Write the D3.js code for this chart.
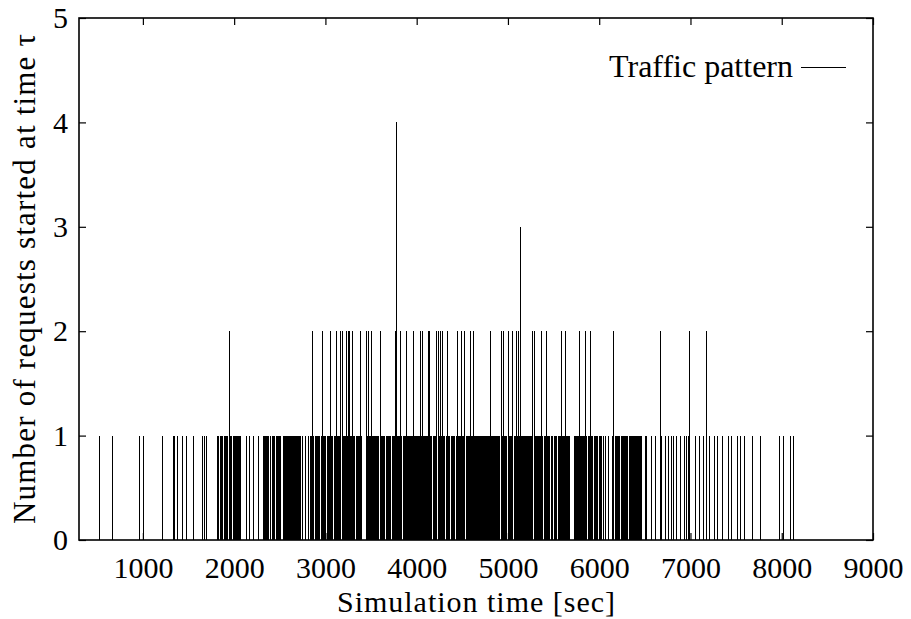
<!DOCTYPE html>
<html lang="en">
<head>
<meta charset="UTF-8">
<title>Traffic pattern</title>
<style>
  body { margin: 0; background: #fff; }
  svg text { font-family: 'Liberation Serif', 'DejaVu Serif', serif !important; fill: #000; }
  .imp { stroke: #000; stroke-width: 1; shape-rendering: crispEdges; }
</style>
</head>
<body>
<svg width="911" height="619" font-family="Liberation Serif"></svg>
<script src="https://cdn.jsdelivr.net/npm/d3@7"></script>
<script>
// request start times (sec), grouped by count at that instant
const onesEarly = [522, 672, 964, 1008, 1216, 1330, 1351, 1380, 1431, 1475, 1555, 1658, 1680, 1702,
  1815, 1826, 1848, 1859, 1870, 1891, 1902, 1913, 1924, 1957, 1968, 1990];
const ones2000 = [2001, 2012, 2023, 2034, 2045, 2056, 2067, 2132, 2169, 2212, 2267, 2319, 2330, 2341,
  2352, 2363, 2374, 2395, 2417, 2428, 2439, 2461, 2472, 2483, 2494, 2505, 2538, 2549, 2560, 2571,
  2582, 2592, 2603, 2614, 2625, 2636, 2647, 2658, 2669, 2680, 2691, 2702, 2713, 2724, 2746, 2779,
  2811, 2833, 2844, 2855, 2866, 2888, 2899, 2910, 2921, 2932, 2954, 2965, 2976, 2987, 2998];
const ones3000 = [3020, 3031, 3042, 3053, 3064, 3074, 3096, 3107, 3118, 3129, 3140, 3151, 3162, 3184,
  3195, 3206, 3217, 3228, 3239, 3250, 3261, 3272, 3283, 3293, 3304, 3315, 3337, 3348, 3359, 3370,
  3381, 3392, 3447, 3458, 3469, 3480, 3491, 3502, 3512, 3523, 3534, 3545, 3556, 3567, 3578, 3600,
  3611, 3622, 3633, 3644, 3666, 3677, 3688, 3699, 3710, 3731, 3742, 3753, 3764, 3775, 3786, 3797,
  3808, 3819, 3830, 3852, 3863, 3874, 3885, 3896, 3907, 3918, 3929, 3940, 3950, 3961, 3972, 3983, 3994];
const ones4000 = [4005, 4016, 4027, 4038, 4049, 4060, 4071, 4082, 4093, 4104, 4115, 4126, 4137, 4148,
  4159, 4180, 4191, 4202, 4213, 4235, 4246, 4257, 4268, 4279, 4290, 4301, 4323, 4334, 4345, 4356,
  4378, 4389, 4399, 4410, 4432, 4443, 4454, 4465, 4476, 4487, 4498, 4509, 4520, 4542, 4553, 4564,
  4575, 4586, 4597, 4608, 4629, 4640, 4651, 4662, 4673, 4684, 4695, 4706, 4717, 4728, 4739, 4750,
  4761, 4772, 4783, 4794, 4805, 4816, 4826, 4837, 4848, 4859, 4870, 4881, 4892, 4903, 4925, 4936,
  4947, 4958, 4969, 4980];
const ones5000 = [5002, 5013, 5024, 5035, 5045, 5067, 5078, 5089, 5100, 5111, 5122, 5133, 5144, 5155,
  5166, 5177, 5188, 5199, 5210, 5221, 5232, 5243, 5254, 5264, 5286, 5297, 5308, 5319, 5330, 5341,
  5352, 5363, 5374, 5396, 5407, 5418, 5429, 5440, 5451, 5473, 5484, 5505, 5516, 5527, 5549, 5560,
  5571, 5582, 5593, 5604, 5615, 5626, 5637, 5648, 5659, 5670, 5724, 5735, 5746, 5757, 5768, 5779,
  5790, 5801, 5812, 5823, 5834, 5845, 5856, 5878, 5889, 5900, 5911, 5922, 5943, 5954, 5965, 5976, 5998];
const ones6000 = [6009, 6020, 6042, 6064, 6097, 6141, 6174, 6185, 6196, 6207, 6218, 6240, 6251, 6262,
  6273, 6284, 6295, 6306, 6327, 6338, 6349, 6360, 6371, 6382, 6393, 6404, 6415, 6426, 6437, 6448,
  6467, 6503, 6522, 6576, 6612, 6686, 6722, 6758, 6795, 6813, 6850, 6886, 6930, 6959, 6977];
const onesLate = [7050, 7097, 7141, 7204, 7258, 7299, 7354, 7420, 7452, 7514, 7546, 7594, 7678, 7762,
  7974, 8023, 8091, 8131];
const twos = [1950, 2863, 2972, 3060, 3118, 3170, 3187, 3235, 3250, 3264, 3301, 3389, 3454, 3469, 3502,
  3608, 3764, 3819, 3885, 3965, 4038, 4068, 4129, 4140, 4213, 4235, 4257, 4287, 4337, 4447, 4495,
  4520, 4593, 4622, 4808, 4933, 4951, 5005, 5049, 5097, 5119, 5273, 5287, 5367, 5418, 5583, 5626,
  5783, 5849, 5908, 6155, 6667, 6992, 7178];
const threes = [5133];
const fours = [3783];

const xTicks = [1000, 2000, 3000, 4000, 5000, 6000, 7000, 8000, 9000];
const yTicks = [0, 1, 2, 3, 4, 5];

// build impulse table
const ones = [].concat(onesEarly, ones2000, ones3000, ones4000, ones5000, ones6000, onesLate);
const data = [].concat(
  ones.map(t => ({t: t, n: 1})),
  twos.map(t => ({t: t, n: 2})),
  threes.map(t => ({t: t, n: 3})),
  fours.map(t => ({t: t, n: 4}))
);

const plotL = 79, plotR = 873, plotT = 18, plotB = 540;
const fs = 30, titleFs = 30;
const serif = "'Liberation Serif', 'DejaVu Serif', serif";

const svg = d3.select("svg");

const x = d3.scaleLinear().domain([300, 9000]).range([plotL, plotR]);
const y = d3.scaleLinear().domain([0, 5]).range([plotB, plotT]);

// impulses
svg.append("g")
  .selectAll("line")
  .data(data)
  .enter().append("line")
  .attr("class", "imp")
  .attr("x1", d => x(d.t))
  .attr("x2", d => x(d.t))
  .attr("y1", y(0))
  .attr("y2", d => y(d.n));

// axes, ticks pointing inward
function styleAxis(g) {
  g.attr("font-family", serif);
  g.select(".domain").remove();
  g.selectAll(".tick line").attr("stroke", "#000").attr("stroke-width", 1.2);
  g.selectAll(".tick text").style("font-size", fs + "px").style("font-family", serif).attr("fill", "#000");
}

svg.append("g")
  .attr("transform", "translate(0," + plotB + ")")
  .call(d3.axisBottom(x).tickValues(xTicks).tickSize(-7).tickPadding(17).tickFormat(d3.format("d")))
  .call(styleAxis);

svg.append("g")
  .attr("transform", "translate(0," + plotT + ")")
  .call(d3.axisTop(x).tickValues(xTicks).tickSize(-7).tickFormat(""))
  .call(styleAxis);

svg.append("g")
  .attr("transform", "translate(" + plotL + ",0)")
  .call(d3.axisLeft(y).tickValues(yTicks).tickSize(-7).tickPadding(11).tickFormat(d3.format("d")))
  .call(styleAxis);

svg.append("g")
  .attr("transform", "translate(" + plotR + ",0)")
  .call(d3.axisRight(y).tickValues(yTicks).tickSize(-7).tickFormat(""))
  .call(styleAxis);

// border
svg.append("rect")
  .attr("x", plotL).attr("y", plotT)
  .attr("width", plotR - plotL).attr("height", plotB - plotT)
  .attr("fill", "none").attr("stroke", "#000").attr("stroke-width", 1.6);

// axis titles
svg.append("text")
  .attr("x", (plotL + plotR) / 2).attr("y", 612)
  .attr("text-anchor", "middle")
  .attr("textLength", 278)
  .attr("lengthAdjust", "spacing")
  .style("font-family", serif)
  .style("font-size", titleFs + "px")
  .text("Simulation time [sec]");

svg.append("text")
  .attr("transform", "translate(35," + (plotT + plotB) / 2 + ") rotate(-90)")
  .attr("text-anchor", "middle")
  .attr("textLength", 490)
  .attr("lengthAdjust", "spacing")
  .style("font-family", serif)
  .style("font-size", (titleFs + 1) + "px")
  .text("Number of requests started at time τ");

// legend
svg.append("text")
  .attr("x", 793).attr("y", 77)
  .attr("text-anchor", "end")
  .style("font-family", serif)
  .style("font-size", (titleFs + 2) + "px")
  .text("Traffic pattern");

svg.append("line")
  .attr("x1", 801).attr("x2", 846)
  .attr("y1", 67.5).attr("y2", 67.5)
  .attr("stroke", "#000").attr("stroke-width", 1);
</script>
</body>
</html>
